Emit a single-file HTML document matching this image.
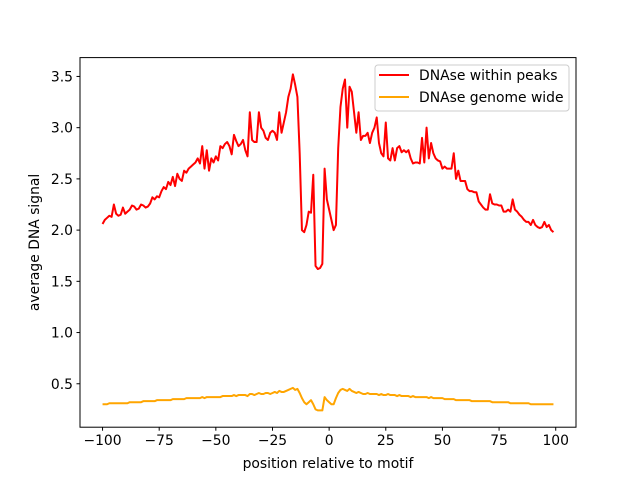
<!DOCTYPE html>
<html><head><meta charset="utf-8"><style>
body{margin:0;background:#fff}
svg{display:block;font-family:"DejaVu Sans","Liberation Sans",sans-serif}
</style></head><body>
<svg id="chart" width="640" height="480" viewBox="0 0 640 480" xmlns="http://www.w3.org/2000/svg">
<rect width="640" height="480" fill="#fff"/>
<g id="plot"></g>
<rect x="80" y="57.6" width="496" height="369.6" fill="none" stroke="#000" stroke-width="1"/>
<g id="ticks"></g>
<text x="328" y="468" font-size="13.9" text-anchor="middle">position relative to motif</text>
<text transform="translate(39,242.4) rotate(-90)" font-size="13.9" text-anchor="middle">average DNA signal</text>
<g>
<rect x="375" y="65" width="194" height="46" rx="3" fill="#fff" fill-opacity="0.8" stroke="#ccc"/>
<line x1="379" y1="75" x2="409" y2="75" stroke="#ff0000" stroke-width="2"/>
<text x="419" y="80" font-size="13.9">DNAse within peaks</text>
<line x1="379" y1="97" x2="409" y2="97" stroke="#ffa500" stroke-width="2"/>
<text x="419" y="102" font-size="13.9">DNAse genome wide</text>
</g>
</svg>
<script>
const xStart = -100;
const withinPeaks = [
2.06,2.10,2.12,2.14,2.13,2.25,2.16,2.14,2.15,2.22,
2.16,2.18,2.20,2.24,2.23,2.20,2.21,2.25,2.24,2.22,
2.23,2.26,2.32,2.30,2.33,2.32,2.38,2.42,2.40,2.47,
2.44,2.52,2.43,2.55,2.50,2.48,2.58,2.56,2.60,2.62,
2.64,2.66,2.70,2.65,2.82,2.60,2.78,2.58,2.70,2.66,
2.72,2.68,2.82,2.80,2.84,2.86,2.82,2.74,2.93,2.87,
2.82,2.84,2.88,2.78,2.72,3.15,2.88,2.86,2.86,3.15,
3.0,2.97,2.9,2.88,2.95,2.97,2.95,2.88,3.15,2.95,
3.05,3.15,3.30,3.38,3.52,3.42,3.3,2.75,2.0,1.98,
2.05,2.18,2.17,2.54,1.65,1.62,1.63,1.67,2.6,2.3,
2.2,2.1,2.0,2.05,2.8,3.2,3.38,3.47,3.0,3.4,
3.35,3.15,2.95,3.15,2.88,2.92,2.92,2.95,2.85,2.95,
3.0,3.1,2.85,2.75,2.72,3.05,2.7,2.68,2.8,2.68,
2.8,2.82,2.76,2.78,2.76,2.78,
2.7,2.65,2.66,2.66,2.65,2.9,2.66,3.0,2.7,2.85,
2.75,2.7,2.68,2.67,2.6,2.62,2.6,2.6,2.6,2.75,
2.5,2.58,2.48,2.48,2.48,2.4,2.38,2.38,2.37,2.37,
2.28,2.25,2.22,2.2,2.2,2.35,2.26,2.25,2.25,2.24,
2.24,2.18,2.18,2.2,2.18,2.3,2.2,2.18,2.15,2.13,
2.1,2.08,2.08,2.05,2.1,2.05,2.03,2.02,2.03,2.08,
2.03,2.05,2.0,1.98];
const genomeWide = [
.30,.30,.30,.31,.31,.31,.31,.31,.31,.31,
.31,.31,.32,.32,.32,.32,.32,.32,.33,.33,
.33,.33,.33,.33,.34,.34,.34,.34,.34,.34,
.34,.35,.35,.35,.35,.35,.35,.36,.36,.36,
.36,.36,.36,.36,.37,.36,.37,.37,.37,.37,
.37,.37,.37,.38,.38,.38,.38,.38,.39,.38,
.39,.39,.39,.39,.38,.40,.40,.39,.40,.41,
.40,.40,.41,.41,.40,.41,.42,.41,.43,.42,
.42,.43,.44,.45,.46,.44,.45,.41,.36,.32,
.30,.32,.34,.30,.25,.24,.24,.24,.37,.34,
.32,.30,.30,.36,.41,.44,.45,.44,.43,.45,
.43,.42,.41,.42,.41,.40,.40,.41,.40,.40,
.40,.40,.39,.40,.39,.39,.40,.39,.39,.39,
.38,.39,.38,.38,.38,.38,.37,.38,.37,.37,
.37,.37,.37,.37,.36,.37,.36,.36,.36,.36,
.36,.35,.35,.35,.35,.35,.34,.34,.34,.34,
.34,.34,.34,.33,.33,.33,.33,.33,.33,.33,
.33,.33,.32,.32,.32,.32,.32,.32,.32,.32,
.31,.31,.31,.31,.31,.31,.31,.31,.31,.30,
.30,.30,.30,.30,.30,.30,.30,.30,.30,.30];
const xTicks = [-100,-75,-50,-25,0,25,50,75,100];
const yTicks = [0.5,1.0,1.5,2.0,2.5,3.0,3.5];
const yTickLabels = ["0.5","1.0","1.5","2.0","2.5","3.0","3.5"];

const NS = "http://www.w3.org/2000/svg";
const L=80,R=576,T=57.6,B=427.2;
const n = withinPeaks.length;
const xMin=xStart, xMax=xStart+n-1, xm=(xMax-xMin)*0.05;
const all = withinPeaks.concat(genomeWide);
const vMin=Math.min(...all), vMax=Math.max(...all), ym=(vMax-vMin)*0.05;
function sx(x){return L+(x-(xMin-xm))/((xMax+xm)-(xMin-xm))*(R-L);}
function sy(v){return B-(v-(vMin-ym))/((vMax+ym)-(vMin-ym))*(B-T);}

const plot=document.getElementById('plot');
function drawLine(vals,color,name){
  const p=document.createElementNS(NS,'polyline');
  p.setAttribute('points',vals.map((v,i)=>sx(xStart+i).toFixed(2)+','+sy(v).toFixed(2)).join(' '));
  p.setAttribute('fill','none');p.setAttribute('stroke',color);p.setAttribute('stroke-width','2');
  p.setAttribute('stroke-linejoin','round');
  
  
  plot.appendChild(p);
}
drawLine(withinPeaks,'#ff0000','within-peaks-line');
drawLine(genomeWide,'#ffa500','genome-wide-line');

const tg=document.getElementById('ticks');
xTicks.forEach(t=>{
  const x=sx(t);
  const l=document.createElementNS(NS,'line');
  l.setAttribute('x1',x);l.setAttribute('x2',x);l.setAttribute('y1',B);l.setAttribute('y2',B+3.5);l.setAttribute('stroke','#000');
  
  
  tg.appendChild(l);
  const tx=document.createElementNS(NS,'text');
  tx.setAttribute('x',x);tx.setAttribute('y',B+18);tx.setAttribute('font-size','13.9');tx.setAttribute('text-anchor','middle');
  tx.textContent=t<0?'\u2212'+Math.abs(t):String(t);
  
  
  tg.appendChild(tx);
});
yTicks.forEach((t,i)=>{
  const y=sy(t);
  const l=document.createElementNS(NS,'line');
  l.setAttribute('x1',L-3.5);l.setAttribute('x2',L);l.setAttribute('y1',y);l.setAttribute('y2',y);l.setAttribute('stroke','#000');
  
  
  tg.appendChild(l);
  const tx=document.createElementNS(NS,'text');
  tx.setAttribute('x',L-7);tx.setAttribute('y',y+5);tx.setAttribute('font-size','13.9');tx.setAttribute('text-anchor','end');
  tx.textContent=yTickLabels[i];
  
  
  tg.appendChild(tx);
});
</script>
</body></html>
